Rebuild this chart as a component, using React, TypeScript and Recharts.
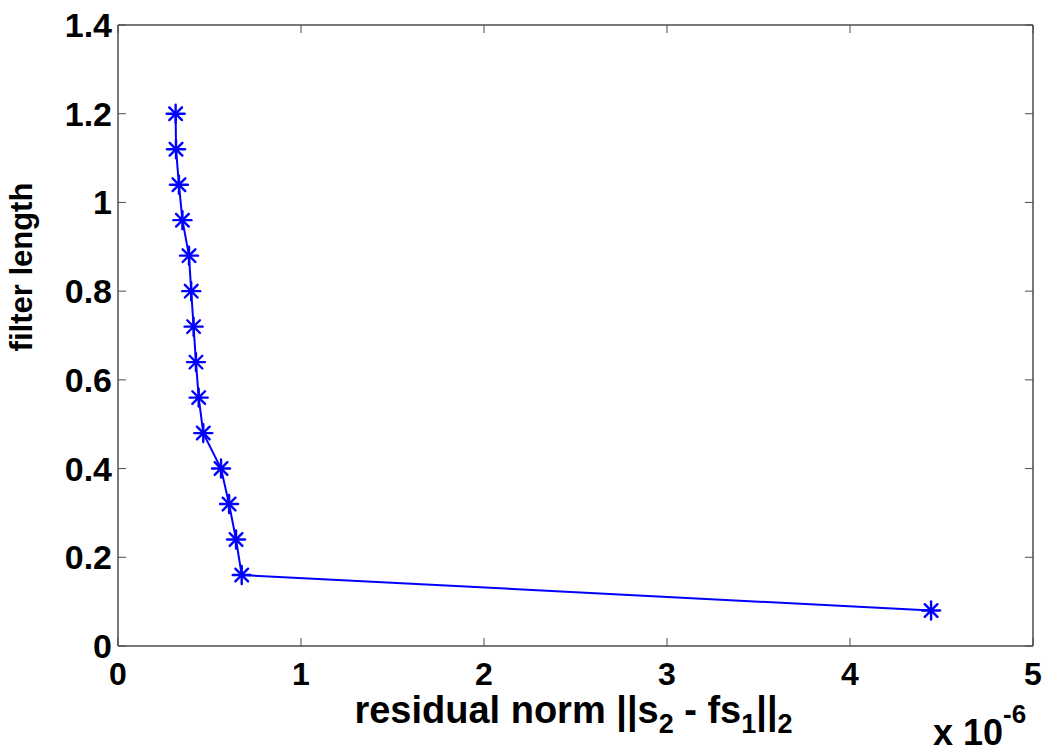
import React from 'react';
import { LineChart, Line, XAxis, YAxis } from 'recharts';

// residual norm (in units of 1e-6) vs filter length
const residualNorm = [0.315, 0.317, 0.333, 0.352, 0.388, 0.4, 0.413, 0.426, 0.441, 0.466, 0.563, 0.607, 0.645, 0.676, 4.443];
const filterLength = [1.2, 1.12, 1.04, 0.96, 0.88, 0.8, 0.72, 0.64, 0.56, 0.48, 0.4, 0.32, 0.24, 0.16, 0.08];
const xTicks = [0, 1, 2, 3, 4, 5];
const yTicks = [0, 0.2, 0.4, 0.6, 0.8, 1, 1.2, 1.4];

const data = residualNorm.map((x, i) => ({ x, y: filterLength[i] }));

const FONT = '"Liberation Sans", Arial, sans-serif';
const AXIS = '#4d4d4d';
const BLUE = '#0000ff';
const TICK_LEN = 8;

const fmt = (v: number) => String(Number(v.toFixed(1)));

const Star = ({ cx, cy }: any) => {
  const r = 9;
  const d = r * 0.7071;
  return (
    <g stroke={BLUE} strokeWidth={2.4} strokeLinecap="round">
      <line x1={cx - r} y1={cy} x2={cx + r} y2={cy} />
      <line x1={cx} y1={cy - r} x2={cx} y2={cy + r} />
      <line x1={cx - d} y1={cy - d} x2={cx + d} y2={cy + d} />
      <line x1={cx - d} y1={cy + d} x2={cx + d} y2={cy - d} />
    </g>
  );
};

const BottomTick = ({ x, y, payload }: any) => (
  <g>
    <line x1={x} y1={y} x2={x} y2={y - TICK_LEN} stroke={AXIS} />
    <text x={x} y={y + 39} textAnchor="middle" fontFamily={FONT} fontWeight="bold" fontSize={32} fill="#000">
      {fmt(payload.value)}
    </text>
  </g>
);

const TopTick = ({ x, y }: any) => <line x1={x} y1={y} x2={x} y2={y + TICK_LEN} stroke={AXIS} />;

const LeftTick = ({ x, y, payload }: any) => (
  <g>
    <line x1={x} y1={y} x2={x + TICK_LEN} y2={y} stroke={AXIS} />
    <text x={x - 6} y={y + 12} textAnchor="end" fontFamily={FONT} fontWeight="bold" fontSize={34} fill="#000">
      {fmt(payload.value)}
    </text>
  </g>
);

const RightTick = ({ x, y }: any) => <line x1={x} y1={y} x2={x - TICK_LEN} y2={y} stroke={AXIS} />;

const XTitle = ({ viewBox }: any) => {
  const { x, y, width } = viewBox;
  return (
    <g fontFamily={FONT} fontWeight="bold" fill="#000">
      <text x={x + width / 2 - 2} y={y + 77} textAnchor="middle" fontSize={38}>
        residual norm ||s<tspan dy={10} fontSize={27}>2</tspan>
        <tspan dy={-10}> - fs</tspan>
        <tspan dy={10} fontSize={27}>1</tspan>
        <tspan dy={-10}>||</tspan>
        <tspan dy={10} fontSize={27}>2</tspan>
      </text>
      <text x={x + width - 100} y={y + 99} fontSize={36}>
        x 10<tspan dy={-22} fontSize={26}>-6</tspan>
      </text>
    </g>
  );
};

const YTitle = () => (
  <text
    x={32}
    y={267}
    transform="rotate(-90, 32, 267)"
    textAnchor="middle"
    fontFamily={FONT}
    fontWeight="bold"
    fontSize={31}
    fill="#000"
  >
    filter length
  </text>
);

export default function App() {
  return (
    <div style={{ position: 'absolute', left: 0, top: 0, width: 1047, height: 752, background: '#fff' }}>
      <LineChart width={1047} height={752} data={data} margin={{ top: 24, right: 13, bottom: 0, left: 0 }}>
        <XAxis
          dataKey="x"
          type="number"
          domain={[0, 5]}
          ticks={xTicks}
          interval={0}
          allowDataOverflow
          height={106}
          tickSize={0}
          tickMargin={0}
          tickLine={false}
          axisLine={{ stroke: AXIS, strokeWidth: 1.5 }}
          tick={<BottomTick />}
          label={<XTitle />}
        />
        <XAxis
          xAxisId="top"
          orientation="top"
          dataKey="x"
          type="number"
          domain={[0, 5]}
          ticks={xTicks}
          interval={0}
          allowDataOverflow
          height={1}
          tickSize={0}
          tickMargin={0}
          tickLine={false}
          axisLine={{ stroke: AXIS, strokeWidth: 1.5 }}
          tick={<TopTick />}
        />
        <YAxis
          dataKey="y"
          type="number"
          domain={[0, 1.4]}
          ticks={yTicks}
          interval={0}
          allowDataOverflow
          width={118}
          tickSize={0}
          tickMargin={0}
          tickLine={false}
          axisLine={{ stroke: AXIS, strokeWidth: 1.5 }}
          tick={<LeftTick />}
          label={<YTitle />}
        />
        <YAxis
          yAxisId="right"
          orientation="right"
          dataKey="y"
          type="number"
          domain={[0, 1.4]}
          ticks={yTicks}
          interval={0}
          allowDataOverflow
          width={1}
          tickSize={0}
          tickMargin={0}
          tickLine={false}
          axisLine={{ stroke: AXIS, strokeWidth: 1.5 }}
          tick={<RightTick />}
        />
        <Line
          dataKey="y"
          type="linear"
          stroke={BLUE}
          strokeWidth={2}
          isAnimationActive={false}
          dot={(p: any) => <Star key={`s-${p.index}`} cx={p.cx} cy={p.cy} />}
          activeDot={false}
        />
      </LineChart>
    </div>
  );
}
